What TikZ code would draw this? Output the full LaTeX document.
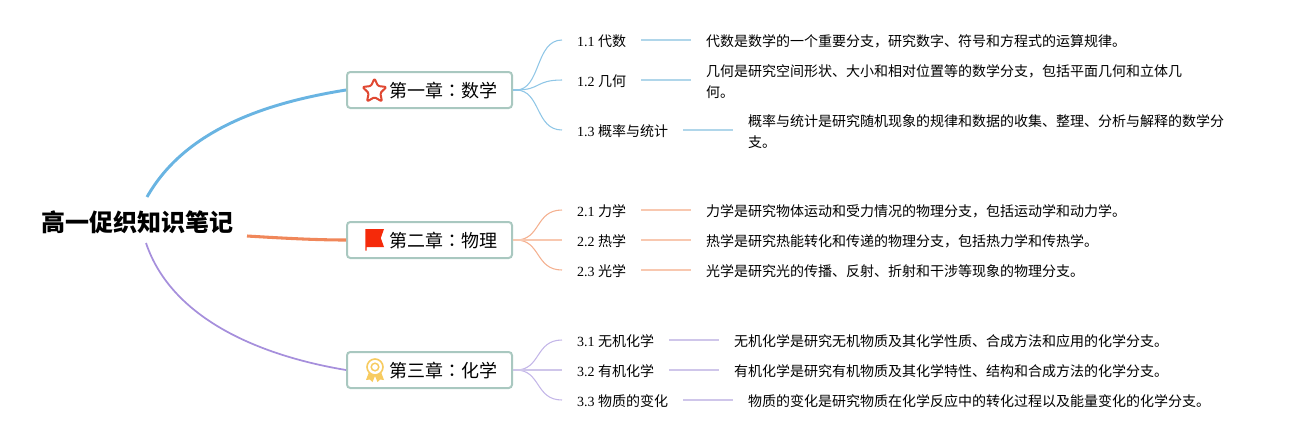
\documentclass[tikz,border=0pt]{standalone}
\usepackage{fontspec}
\usetikzlibrary{calc}
\setmainfont{Liberation Serif}
\newfontfamily\cjk{Noto Sans CJK SC}
\newfontfamily\cjktc{Noto Sans CJK TC}
\definecolor{blueB}{HTML}{69B4E2}
\definecolor{orangeB}{HTML}{F0875A}
\definecolor{purpleB}{HTML}{A68FDC}
\definecolor{blueF}{HTML}{8FC6E6}
\definecolor{orangeF}{HTML}{F4B08F}
\definecolor{purpleF}{HTML}{C3B6E8}
\definecolor{blueL}{HTML}{B0D6EA}
\definecolor{orangeL}{HTML}{F8C8B0}
\definecolor{purpleL}{HTML}{CFC6EA}
\definecolor{boxedge}{HTML}{A9C8C0}
\definecolor{medal}{HTML}{F7CB60}
\definecolor{flagred}{HTML}{F52A0A}
\definecolor{starred}{HTML}{E04832}
\tikzset{
  x=0.75pt,y=-0.75pt,
  rootnode/.style={inner sep=0pt,font=\fontsize{18}{22}\selectfont\cjk\bfseries,anchor=center},
  topicbox/.style={draw=boxedge,line width=1.5pt,rounded corners=2.5pt,fill=white,minimum width=123.75pt,minimum height=27pt,inner sep=0pt,anchor=center},
  subnode/.style={inner ysep=0pt,inner xsep=0pt,outer xsep=11.25pt,anchor=west,font=\fontsize{10.5}{14}\selectfont,execute at begin node={\rule{0pt}{10.6pt}}},
  descnode/.style={inner ysep=0pt,inner xsep=0pt,outer xsep=11.25pt,anchor=west,align=left,font=\fontsize{10.5}{15.75}\selectfont\cjk,execute at begin node={\rule{0pt}{10.6pt}}},
  topiclabel/.style={inner sep=0pt,anchor=west},
  fan/.style={line width=0.8pt},
  stub/.style={line width=1.6pt},
  leaf/.style={line width=1.15pt},
}
\newcommand{\lab}[2]{#1 {\cjk #2}}
\newcommand{\topictext}[2]{\makebox[80.25pt][c]{\fontsize{13.5}{16}\selectfont\cjk #1{\cjktc ：}#2}}
\begin{document}
\begin{tikzpicture}
\useasboundingbox (0,0) rectangle (1308,440);
% root
\node[rootnode] (root) at (137,222) {高一促织知识笔记};
\coordinate (rootA) at (147,197);
\coordinate (rootB) at (247,236);
\coordinate (rootC) at (146,243);
% topics
\node[topicbox] (t1) at (429.5,90) {};
\node[topicbox] (t2) at (429.5,240) {};
\node[topicbox] (t3) at (429.5,370) {};
\node[topiclabel] (t1x) at (389.5,91) {\topictext{第一章}{数学}};
\node[topiclabel] (t2x) at (389.5,241) {\topictext{第二章}{物理}};
\node[topiclabel] (t3x) at (389.5,371) {\topictext{第三章}{化学}};
% main branches
\draw[blueB,line width=2.2pt] (rootA) .. controls (185,130) and (265,103) .. (t1.west);
\draw[orangeB,line width=2.3pt] (rootB) .. controls (280,238) and (315,240) .. (t2.west);
\draw[purpleB,line width=1.3pt] (rootC) .. controls (172,320) and (262,356) .. (t3.west);
% sub nodes
\node[subnode] (a1) at (562,40) {\lab{1.1}{代数}};
\node[subnode] (a2) at (562,80) {\lab{1.2}{几何}};
\node[subnode] (a3) at (562,130) {\lab{1.3}{概率与统计}};
\node[subnode] (b1) at (562,210) {\lab{2.1}{力学}};
\node[subnode] (b2) at (562,240) {\lab{2.2}{热学}};
\node[subnode] (b3) at (562,270) {\lab{2.3}{光学}};
\node[subnode] (c1) at (562,340) {\lab{3.1}{无机化学}};
\node[subnode] (c2) at (562,370) {\lab{3.2}{有机化学}};
\node[subnode] (c3) at (562,400) {\lab{3.3}{物质的变化}};
% descriptions
\node[descnode] (da1) at (691,40) {代数是数学的一个重要分支，研究数字、符号和方程式的运算规律。};
\node[descnode] (da2) at (691,81.5) {几何是研究空间形状、大小和相对位置等的数学分支，包括平面几何和立体几\\何。};
\node[descnode] (da3) at (733,131.5) {概率与统计是研究随机现象的规律和数据的收集、整理、分析与解释的数学分\\支。};
\node[descnode] (db1) at (691,210) {力学是研究物体运动和受力情况的物理分支，包括运动学和动力学。};
\node[descnode] (db2) at (691,240) {热学是研究热能转化和传递的物理分支，包括热力学和传热学。};
\node[descnode] (db3) at (691,270) {光学是研究光的传播、反射、折射和干涉等现象的物理分支。};
\node[descnode] (dc1) at (719,340) {无机化学是研究无机物质及其化学性质、合成方法和应用的化学分支。};
\node[descnode] (dc2) at (719,370) {有机化学是研究有机物质及其化学特性、结构和合成方法的化学分支。};
\node[descnode] (dc3) at (733,400) {物质的变化是研究物质在化学反应中的转化过程以及能量变化的化学分支。};
% stubs
\draw[blueF,stub] (t1.east) -- ++(6,0);
\draw[orangeF,stub] (t2.east) -- ++(6,0);
\draw[purpleF,stub] (t3.east) -- ++(6,0);
% fans
\foreach \n in {a1,a2,a3}{\draw[blueF,fan] ($(t1.east)+(3,0)$) .. controls ($(t1.east)+(28,0)$) and ($(\n.west)+(-27,0)$) .. (\n.west);}
\foreach \n in {b1,b3}{\draw[orangeF,fan] ($(t2.east)+(3,0)$) .. controls ($(t2.east)+(28,0)$) and ($(\n.west)+(-27,0)$) .. (\n.west);}
\foreach \n in {c1,c3}{\draw[purpleF,fan] ($(t3.east)+(3,0)$) .. controls ($(t3.east)+(28,0)$) and ($(\n.west)+(-27,0)$) .. (\n.west);}
\draw[orangeL,leaf] (t2.east) -- (b2.west);
\draw[purpleL,leaf] (t3.east) -- (c2.west);
% leaf connectors
\draw[blueL,leaf] (a1.east) -- (da1.west);
\draw[blueL,leaf] (a2.east) -- ($(da2.west)+(0,-1.5)$);
\draw[blueL,leaf] (a3.east) -- ($(da3.west)+(0,-1.5)$);
\foreach \n in {b1,b2,b3}{\draw[orangeL,leaf] (\n.east) -- (d\n.west);}
\foreach \n in {c1,c2,c3}{\draw[purpleL,leaf] (\n.east) -- (d\n.west);}
% star icon
\fill[white,draw=starred,line width=1.5pt,line join=round,rounded corners=1pt]
  (374.5,78.5) -- (378,86) -- (386.5,87) -- (380.3,93) -- (382,101.5) -- (374.5,97.2) -- (367,101.5) -- (368.7,93) -- (362.5,87) -- (371,86) -- cycle;
% flag icon
\fill[flagred] (365.3,229) -- (384,229) -- (380.8,238) -- (384,247) -- (366.5,247) -- (366.5,250.5) -- (365.3,250.5) -- cycle;
% medal icon
\fill[medal] (369,372) -- (366,380) -- (370,379.5) -- (372.5,382) -- (375,376) -- (377.5,382) -- (380,379.5) -- (384,380) -- (381,372) -- cycle;
\draw[medal,fill=white,line width=1.2pt] (375,367) circle (8);
\draw[medal,line width=1.1pt] (375,367) circle (3.8);
\end{tikzpicture}
\end{document}
